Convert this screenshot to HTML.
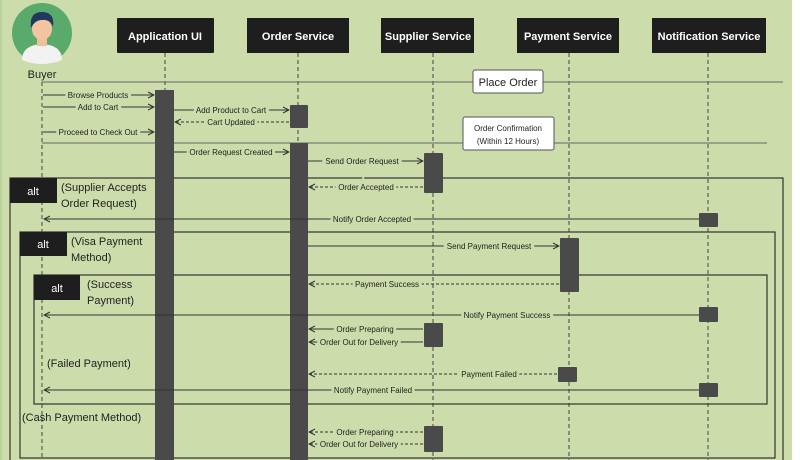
<!DOCTYPE html>
<html><head><meta charset="utf-8"><style>
html,body{margin:0;padding:0;background:#fff;}
svg{display:block;font-family:"Liberation Sans",sans-serif;}
</style></head><body>
<svg width="800" height="460" viewBox="0 0 800 460" xmlns="http://www.w3.org/2000/svg">
<defs>
<marker id="a" markerWidth="8" markerHeight="8" refX="7" refY="4" orient="auto" markerUnits="userSpaceOnUse"><path d="M1,1 L7,4 L1,7" fill="none" stroke="#333" stroke-width="1"/></marker>
</defs>
<rect x="0" y="0" width="792" height="460" fill="#cddcab"/>
<rect x="0" y="0" width="2" height="460" fill="#b9d39a"/>
<!-- lifelines -->
<g stroke="#444" stroke-width="1" stroke-dasharray="4,3">
<line x1="42" y1="82" x2="42" y2="460"/>
<line x1="165" y1="53" x2="165" y2="460"/>
<line x1="298" y1="53" x2="298" y2="460"/>
<line x1="433" y1="53" x2="433" y2="460"/>
<line x1="569" y1="53" x2="569" y2="460"/>
<line x1="708" y1="53" x2="708" y2="460"/>
</g>
<!-- headers -->
<g fill="#1e1e1e"><rect x="117" y="18" width="97" height="35" rx="1"/><rect x="247" y="18" width="102" height="35"/><rect x="381" y="18" width="93" height="35"/><rect x="517" y="18" width="102" height="35"/><rect x="652" y="18" width="114" height="35"/></g>
<g fill="#fff" font-size="11" font-weight="bold" text-anchor="middle">
<text x="165" y="40">Application UI</text><text x="298" y="40">Order Service</text><text x="428" y="40">Supplier Service</text><text x="568" y="40">Payment Service</text><text x="709" y="40">Notification Service</text></g>
<!-- buyer -->
<circle cx="42" cy="33" r="30" fill="#5aaa6b"/>
<path d="M22,60 Q22,45 42,44 Q62,45 62,60 Q52,64 42,64 Q32,64 22,60Z" fill="#f2f2f2"/>
<rect x="37" y="38" width="10" height="8" fill="#f0c09a"/>
<ellipse cx="42" cy="29" rx="10" ry="11" fill="#f3c4a0"/>
<path d="M31,28 Q29,12 42,12 Q55,12 53,27 Q50,19 42,20 Q35,20 31,28Z" fill="#1f3a5e"/>
<text x="42" y="78" font-size="11" text-anchor="middle" fill="#222">Buyer</text>
<!-- separators -->
<line x1="42" y1="82" x2="783" y2="82" stroke="#666" stroke-width="1"/>
<rect x="473" y="70" width="70" height="23" fill="#fff" stroke="#555" rx="2"/>
<text x="508" y="86" font-size="11" text-anchor="middle" fill="#222">Place Order</text>
<line x1="42" y1="143" x2="767" y2="143" stroke="#666" stroke-width="1"/>
<rect x="463" y="117" width="91" height="33" fill="#fff" stroke="#555" rx="2"/>
<text x="508" y="131" font-size="8" text-anchor="middle" fill="#222">Order Confirmation</text>
<text x="508" y="144" font-size="8" text-anchor="middle" fill="#222">(Within 12 Hours)</text>
<!-- frames -->
<g fill="none" stroke="#333" stroke-width="1.2">
<rect x="10" y="178" width="773" height="290"/>
<rect x="20" y="232" width="755" height="226"/>
<rect x="34" y="275" width="733" height="129"/>
</g>
<g fill="#1e1e1e"><rect x="10" y="178" width="47" height="25"/><rect x="20" y="232" width="47" height="24"/><rect x="34" y="275" width="46" height="25"/></g>
<g fill="#fff" font-size="11" text-anchor="middle"><text x="33" y="195">alt</text><text x="43" y="248">alt</text><text x="57" y="292">alt</text></g>
<g fill="#222" font-size="11">
<text x="61" y="191">(Supplier Accepts</text><text x="61" y="207">Order Request)</text>
<text x="71" y="245">(Visa Payment</text><text x="71" y="261">Method)</text>
<text x="87" y="288">(Success</text><text x="87" y="304">Payment)</text>
<text x="47" y="367">(Failed Payment)</text>
<text x="22" y="421">(Cash Payment Method)</text>
</g>
<!-- activations -->
<g fill="#4a4a4a">
<rect x="155" y="90" width="19" height="370"/>
<rect x="290" y="105" width="18" height="23" rx="1"/>
<rect x="290" y="143" width="18" height="317"/>
<rect x="424" y="153" width="19" height="40" rx="1"/>
<rect x="424" y="323" width="19" height="24" rx="1"/>
<rect x="424" y="426" width="19" height="26" rx="1"/>
<rect x="560" y="238" width="19" height="54" rx="1"/>
<rect x="558" y="367" width="19" height="15" rx="1"/>
<rect x="699" y="213" width="19" height="14" rx="1"/>
<rect x="699" y="307" width="19" height="15" rx="1"/>
<rect x="699" y="383" width="19" height="14" rx="1"/>
</g>
<!-- messages -->
<g stroke="#333" stroke-width="1" marker-end="url(#a)" fill="none">
<line x1="43" y1="95" x2="154" y2="95"/>
<line x1="43" y1="107" x2="154" y2="107"/>
<line x1="174" y1="110" x2="289" y2="110"/>
<line x1="289" y1="122" x2="175" y2="122" stroke-dasharray="3,2"/>
<line x1="43" y1="132" x2="154" y2="132"/>
<line x1="174" y1="152" x2="289" y2="152"/>
<line x1="308" y1="161" x2="423" y2="161"/>
<line x1="423" y1="187" x2="309" y2="187" stroke-dasharray="3,2"/>
<line x1="699" y1="219" x2="44" y2="219"/>
<line x1="308" y1="246" x2="559" y2="246"/>
<line x1="559" y1="284" x2="309" y2="284" stroke-dasharray="3,2"/>
<line x1="699" y1="315" x2="44" y2="315"/>
<line x1="423" y1="329" x2="309" y2="329"/>
<line x1="423" y1="342" x2="309" y2="342"/>
<line x1="557" y1="374" x2="309" y2="374" stroke-dasharray="3,2"/>
<line x1="699" y1="390" x2="44" y2="390"/>
<line x1="423" y1="432" x2="309" y2="432" stroke-dasharray="3,2"/>
<line x1="423" y1="444" x2="309" y2="444" stroke-dasharray="3,2"/>
</g>
<g font-size="8" fill="#222" text-anchor="middle" paint-order="stroke" stroke="#cddcab" stroke-width="6">
<text x="98" y="98">Browse Products</text>
<text x="98" y="110">Add to Cart</text>
<text x="231" y="113">Add Product to Cart</text>
<text x="231" y="125">Cart Updated</text>
<text x="98" y="135">Proceed to Check Out</text>
<text x="231" y="155">Order Request Created</text>
<text x="362" y="164">Send Order Request</text>
<text x="366" y="190">Order Accepted</text>
<text x="372" y="222">Notify Order Accepted</text>
<text x="489" y="249">Send Payment Request</text>
<text x="387" y="287">Payment Success</text>
<text x="507" y="318">Notify Payment Success</text>
<text x="365" y="332">Order Preparing</text>
<text x="359" y="345">Order Out for Delivery</text>
<text x="489" y="377">Payment Failed</text>
<text x="373" y="393">Notify Payment Failed</text>
<text x="365" y="435">Order Preparing</text>
<text x="359" y="447">Order Out for Delivery</text>
</g>
</svg>
</body></html>
